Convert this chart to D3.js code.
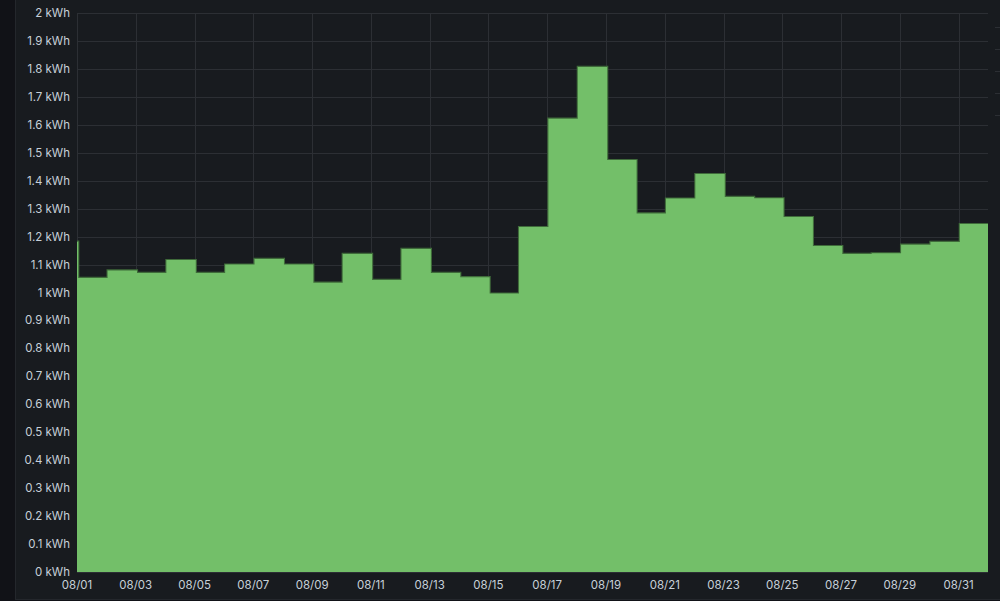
<!DOCTYPE html>
<html>
<head>
<meta charset="utf-8">
<script src="https://cdn.jsdelivr.net/npm/d3@7"></script>
<style>
  html, body { margin: 0; padding: 0; background: #111217; }
  svg { display: block; }
</style>
</head>
<body>
<svg id="chart" width="1000" height="601"></svg>
<script>
// ---- data ----
const dates = ["2023-07-31","2023-08-01","2023-08-02","2023-08-03","2023-08-04","2023-08-05","2023-08-06","2023-08-07","2023-08-08","2023-08-09","2023-08-10","2023-08-11","2023-08-12","2023-08-13","2023-08-14","2023-08-15","2023-08-16","2023-08-17","2023-08-18","2023-08-19","2023-08-20","2023-08-21","2023-08-22","2023-08-23","2023-08-24","2023-08-25","2023-08-26","2023-08-27","2023-08-28","2023-08-29","2023-08-30","2023-08-31"];
const energy = [1.182,1.052,1.079,1.070,1.116,1.070,1.100,1.120,1.100,1.035,1.138,1.045,1.156,1.070,1.055,0.996,1.234,1.622,1.807,1.474,1.283,1.336,1.424,1.342,1.337,1.270,1.166,1.138,1.140,1.171,1.181,1.245];
const yTicks = [0,0.1,0.2,0.3,0.4,0.5,0.6,0.7,0.8,0.9,1,1.1,1.2,1.3,1.4,1.5,1.6,1.7,1.8,1.9,2];
const xTickDates = ["2023-08-01","2023-08-03","2023-08-05","2023-08-07","2023-08-09","2023-08-11","2023-08-13","2023-08-15","2023-08-17","2023-08-19","2023-08-21","2023-08-23","2023-08-25","2023-08-27","2023-08-29","2023-08-31"];
const sampleHourOffset = 1.7; // samples stamped shortly after midnight

// ---- layout ----
const svg = d3.select("#chart");
const W = 1000, H = 601;
const m = {left: 77, right: 12, top: 13, bottom: 29};
const parse = d3.utcParse("%Y-%m-%d");

svg.append("rect").attr("x",0).attr("y",0).attr("width",W).attr("height",H).attr("fill","#111217");
svg.append("rect").attr("x",15.5).attr("y",-2).attr("width",W).attr("height",601.5)
  .attr("fill","#181b1f").attr("stroke","#24272c").attr("stroke-width",1);

const domainEnd = parse("2023-09-01");
const x = d3.scaleUtc()
  .domain([parse("2023-08-01"), domainEnd])
  .range([m.left, W - m.right]);
const y = d3.scaleLinear().domain([0, 2]).range([H - m.bottom, m.top]);

const pts = dates.map((d,i) => ({t: d3.utcHour.offset(parse(d), sampleHourOffset), v: energy[i]}));
// hold last sample to the right edge of the plot
const stepPts = pts.concat([{t: d3.utcDay.offset(domainEnd, 1), v: energy[energy.length - 1]}]);

// grid
const g = svg.append("g");
g.selectAll(".hg").data(yTicks).join("line")
  .attr("x1", m.left).attr("x2", W - m.right)
  .attr("y1", d => Math.round(y(d)) + 0.5).attr("y2", d => Math.round(y(d)) + 0.5)
  .attr("stroke", "#2c2f34").attr("stroke-width", 1);
g.selectAll(".vg").data(xTickDates.map(parse)).join("line")
  .attr("x1", d => Math.round(x(d)) + 0.5).attr("x2", d => Math.round(x(d)) + 0.5)
  .attr("y1", m.top).attr("y2", H - m.bottom)
  .attr("stroke", "#2c2f34").attr("stroke-width", 1);

// clip
svg.append("clipPath").attr("id","clip").append("rect")
  .attr("x", m.left).attr("y", 0).attr("width", W - m.right - m.left).attr("height", H - m.bottom);

const area = d3.area().curve(d3.curveStepAfter)
  .x(d => x(d.t)).y0(y(0)).y1(d => y(d.v));
const line = d3.line().curve(d3.curveStepAfter)
  .x(d => x(d.t)).y(d => y(d.v));

const plot = svg.append("g").attr("clip-path","url(#clip)");
plot.append("path").datum(stepPts).attr("d", line)
  .attr("fill","none").attr("stroke","#3f6b3a").attr("stroke-width",2.2);
plot.append("path").datum(stepPts).attr("d", area)
  .attr("fill","#73bf69");

// axes labels
const font = "Inter, 'Noto Sans', sans-serif";
svg.append("g").selectAll("text").data(yTicks).join("text")
  .attr("x", 70).attr("y", d => y(d)).attr("dy","0.35em")
  .attr("text-anchor","end").attr("font-family", font).attr("font-size", 11.5)
  .attr("fill","#c7d0d9")
  .text(d => d3.format("~g")(d) + " kWh");

svg.append("g").selectAll("text").data(xTickDates.map(parse)).join("text")
  .attr("x", d => x(d)).attr("y", 585).attr("dy","0.35em")
  .attr("text-anchor","middle").attr("font-family", font).attr("font-size", 11.5)
  .attr("fill","#c7d0d9")
  .text(d => d3.utcFormat("%m/%d")(d));

// faint marks at right edge
svg.append("g").selectAll("line").data([27,49,71,93,115]).join("line")
  .attr("x1", 995).attr("x2", 1000).attr("y1", d => d + 0.5).attr("y2", d => d + 0.5)
  .attr("stroke","#2c2f34");
</script>
</body>
</html>
